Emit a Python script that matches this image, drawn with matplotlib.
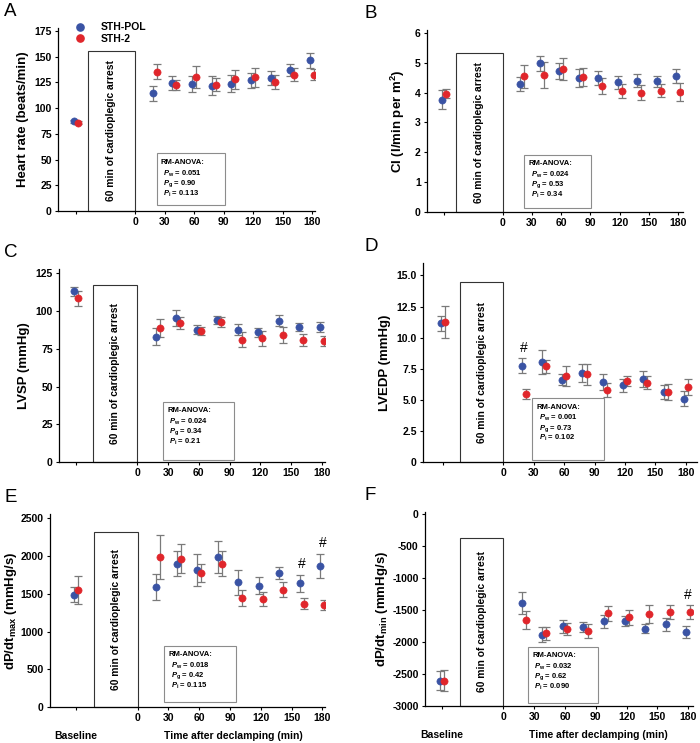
import numpy as np
import matplotlib
matplotlib.use('Agg')
import matplotlib.pyplot as plt
from matplotlib.lines import Line2D
from matplotlib.patches import Rectangle

plt.rcParams.update({
    'font.family': ['Liberation Sans', 'DejaVu Sans'],
    'font.weight': 'bold',
    'mathtext.fontset': 'custom',
    'mathtext.rm': 'Liberation Sans:bold',
    'mathtext.it': 'Liberation Sans:italic:bold',
    'mathtext.bf': 'Liberation Sans:bold',
})

BLUE = '#3a53a4'
RED = '#e0262b'
ERR = '#7a7a7a'

# baseline is drawn at x = -60, then minutes after declamping
times = [-60, 20, 40, 60, 80, 100, 120, 140, 160, 180]
groups = ['STH-POL', 'STH-2']

# ── data (mean / SEM) ────────────────────────────────────────────
hr_pol       = [87.5, 114.5, 124.5, 123.5, 122.0, 124.0, 127.0, 129.5, 137.0, 146.5]
hr_pol_se    = [1.5, 7.5, 6.5, 7.5, 9.0, 8.5, 7.5, 6.5, 6.0, 7.0]
hr_sth2      = [86.0, 135.5, 122.5, 130.5, 123.0, 128.0, 130.0, 125.5, 132.5, 132.5]
hr_sth2_se   = [1.5, 7.0, 5.0, 10.5, 6.5, 9.5, 9.0, 7.0, 6.5, 5.5]

ci_pol       = [3.77, 4.28, 4.98, 4.73, 4.50, 4.50, 4.35, 4.40, 4.38, 4.55]
ci_pol_se    = [0.33, 0.23, 0.25, 0.26, 0.30, 0.24, 0.22, 0.22, 0.18, 0.24]
ci_sth2      = [3.97, 4.55, 4.59, 4.78, 4.52, 4.22, 4.05, 4.00, 4.07, 4.02]
ci_sth2_se   = [0.15, 0.38, 0.44, 0.37, 0.30, 0.28, 0.24, 0.25, 0.22, 0.29]

lvsp_pol     = [113.0, 83.0, 95.7, 87.8, 94.2, 87.8, 86.0, 93.7, 89.3, 89.5]
lvsp_pol_se  = [3.0, 5.5, 5.3, 3.0, 2.5, 3.5, 3.0, 3.8, 2.8, 3.5]
lvsp_sth2    = [108.4, 89.0, 92.4, 86.9, 92.9, 81.1, 82.0, 84.2, 81.1, 80.2]
lvsp_sth2_se = [5.0, 6.0, 4.0, 2.8, 3.5, 4.8, 4.8, 5.2, 4.0, 3.3]

lvedp_pol     = [11.15, 7.73, 8.03, 6.63, 7.14, 6.44, 6.17, 6.70, 5.63, 5.09]
lvedp_pol_se  = [0.60, 0.60, 0.95, 0.42, 0.70, 0.65, 0.52, 0.65, 0.58, 0.60]
lvedp_sth2    = [11.28, 5.44, 7.68, 6.92, 7.06, 5.76, 6.49, 6.38, 5.60, 6.03]
lvedp_sth2_se = [1.30, 0.40, 0.52, 0.80, 0.83, 0.57, 0.40, 0.55, 0.65, 0.63]

dpmax_pol     = [1490, 1592, 1896, 1817, 1988, 1653, 1609, 1781, 1640, 1870]
dpmax_pol_se  = [100, 170, 165, 215, 210, 165, 115, 80, 110, 160]
dpmax_sth2    = [1552, 1984, 1965, 1772, 1896, 1442, 1433, 1552, 1371, 1354]
dpmax_sth2_se = [190, 290, 190, 120, 165, 105, 90, 100, 75, 70]

dpmin_pol     = [-2604, -1385, -1885, -1750, -1760, -1677, -1672, -1792, -1724, -1838]
dpmin_pol_se  = [145, 175, 120, 100, 80, 100, 80, 70, 95, 95]
dpmin_sth2    = [-2604, -1656, -1865, -1792, -1833, -1552, -1615, -1562, -1531, -1531]
dpmin_sth2_se = [160, 145, 95, 95, 110, 110, 125, 145, 110, 110]

# RM-ANOVA p values (within, group, interaction)
p_hr    = ['0.051', '0.90', '0.113']
p_ci    = ['0.024', '0.53', '0.34']
p_lvsp  = ['0.024', '0.34', '0.21']
p_lvedp = ['0.001', '0.73', '0.102']
p_dpmax = ['0.018', '0.42', '0.115']
p_dpmin = ['0.032', '0.62', '0.090']

# time points with # (STH-POL vs STH-2)
sig_lvedp = [20]
sig_dpmax = [160, 180]
sig_dpmin = [180]

W, H = 700, 743
fig = plt.figure(figsize=(W / 100, H / 100), dpi=100, facecolor='white')


def px_rect(l, r, t, b):
    return [l / W, 1 - b / H, (r - l) / W, (b - t) / H]


panels = [
    dict(letter='A', rect=(58, 315, 28, 211), xlim=(-78.3, 183), ylim=(0, 178),
         yticks=np.arange(0, 176, 25), ytl=None, ylabel='Heart rate (beats/min)',
         pol=(hr_pol, hr_pol_se), sth=(hr_sth2, hr_sth2_se), p=p_hr, sig=[],
         arrest=(-48, 156), stat=(22, 91, 5.5, 56), bottom=False, lpad=4),
    dict(letter='B', rect=(427, 683, 30, 212), xlim=(-77.3, 184.8), ylim=(0, 6.1),
         yticks=np.arange(0, 7, 1), ytl=None, ylabel='CI (l/min per m$^{2}$)',
         pol=(ci_pol, ci_pol_se), sth=(ci_sth2, ci_sth2_se), p=p_ci, sig=[],
         arrest=(-47.4, 5.34), stat=(22.5, 90.4, 0.145, 1.92), bottom=False, lpad=6),
    dict(letter='C', rect=(59, 325, 269, 462), xlim=(-76.3, 183), ylim=(0, 127.9),
         yticks=np.arange(0, 126, 25), ytl=None, ylabel='LVSP (mmHg)',
         pol=(lvsp_pol, lvsp_pol_se), sth=(lvsp_sth2, lvsp_sth2_se), p=p_lvsp, sig=[],
         arrest=(-42.9, 117.5), stat=(25.3, 94.5, 1.1, 39.9), bottom=False, lpad=4),
    dict(letter='D', rect=(423, 697, 263, 462), xlim=(-79.3, 191), ylim=(0, 16.0),
         yticks=np.arange(0, 15.1, 2.5),
         ytl=['0', '2.5', '5.0', '7.5', '10.0', '12.5', '15.0'], ylabel='LVEDP (mmHg)',
         pol=(lvedp_pol, lvedp_pol_se), sth=(lvedp_sth2, lvedp_sth2_se), p=p_lvedp,
         sig=sig_lvedp, arrest=(-42.9, 14.46), stat=(28.7, 99.7, 0.13, 5.14),
         bottom=False, lpad=4),
    dict(letter='E', rect=(50, 325, 514, 707), xlim=(-85.5, 182.6), ylim=(0, 2557),
         yticks=np.arange(0, 2501, 500), ytl=None,
         ylabel='dP/dt$_{\\rm max}$ (mmHg/s)',
         pol=(dpmax_pol, dpmax_pol_se), sth=(dpmax_sth2, dpmax_sth2_se), p=p_dpmax,
         sig=sig_dpmax, arrest=(-42.6, 2319), stat=(26, 95.5, 62, 811), bottom=True,
         lpad=1),
    dict(letter='F', rect=(425, 693, 512, 706), xlim=(-76.2, 184.6), ylim=(-3000, 36),
         yticks=np.arange(-3000, 1, 500), ytl=None,
         ylabel='dP/dt$_{\\rm min}$ (mmHg/s)',
         pol=(dpmin_pol, dpmin_pol_se), sth=(dpmin_sth2, dpmin_sth2_se), p=p_dpmin,
         sig=sig_dpmin, arrest=(-42, -365), stat=(24, 92, -2958, -2073), bottom=True,
         lpad=2),
]

x = np.array(times, dtype=float)
dodge = 2.0

for pn in panels:
    l, r, t, b = pn['rect']
    ax = fig.add_axes(px_rect(l, r, t, b))
    ax.set_xlim(*pn['xlim'])
    ax.set_ylim(*pn['ylim'])
    y0 = pn['ylim'][0]

    # series: error bars under the dots
    for (vals, se), col, dx in [(pn['pol'], BLUE, -dodge), (pn['sth'], RED, dodge)]:
        ax.errorbar(x + dx, vals, yerr=se, fmt='none', ecolor=ERR, elinewidth=0.9,
                    capsize=2.6, capthick=0.9, zorder=3)
        ax.plot(x + dx, vals, 'o', color=col, ms=5.2, mec=col, mew=0.4, zorder=4)

    # cardioplegic arrest box
    bx0, btop = pn['arrest']
    ax.add_patch(Rectangle((bx0, y0), 0 - bx0, btop - y0, facecolor='white',
                           edgecolor='#333333', lw=0.8, zorder=2, clip_on=False))
    ax.text(bx0 / 2, (y0 + btop) / 2, '60 min of cardioplegic arrest', rotation=90,
            ha='center', va='center', fontsize=7.4, fontweight='bold', zorder=5)

    # RM-ANOVA box
    sx0, sx1, sy0, sy1 = pn['stat']
    ax.add_patch(Rectangle((sx0, sy0), sx1 - sx0, sy1 - sy0, facecolor='white',
                           edgecolor='#8c8c8c', lw=0.8, zorder=2))
    lines = ['RM-ANOVA:',
             '$P_{\\rm w}$ = ' + pn['p'][0],
             '$P_{\\rm g}$ = ' + pn['p'][1],
             '$P_{\\rm i}$ = ' + pn['p'][2]]
    offs = [(3.0, -6.5), (4.5, -14.5), (4.5, -21.8), (4.5, -28.8)]
    for txt, (ox, oy) in zip(lines, offs):
        ax.annotate(txt, xy=(sx0, sy1), xytext=(ox, oy), textcoords='offset points',
                    ha='left', va='center', fontsize=5.5, fontweight='bold', zorder=5)

    # significance marks
    pol_v, pol_se = np.array(pn['pol'][0]), np.array(pn['pol'][1])
    sth_v, sth_se = np.array(pn['sth'][0]), np.array(pn['sth'][1])
    for tt in pn['sig']:
        i = times.index(tt)
        top = max(pol_v[i] + pol_se[i], sth_v[i] + sth_se[i])
        ax.annotate('#', xy=(tt, top), xytext=(0, 7.5), textcoords='offset points',
                    ha='center', va='center', fontsize=10, fontweight='normal')

    # axes styling
    for s in ['top', 'right']:
        ax.spines[s].set_visible(False)
    ax.spines['left'].set_linewidth(0.9)
    ax.spines['bottom'].set_linewidth(0.9)
    ax.set_xticks([-60, 0, 30, 60, 90, 120, 150, 180])
    ax.set_xticklabels(['', '0', '30', '60', '90', '120', '150', '180'])
    ax.set_yticks(pn['yticks'])
    if pn['ytl'] is not None:
        ax.set_yticklabels(pn['ytl'])
    else:
        ax.set_yticklabels([f'{v:g}' for v in pn['yticks']])
    ax.tick_params(direction='out', length=2.5, width=0.8, labelsize=7.5, pad=2)
    for lab in ax.get_xticklabels() + ax.get_yticklabels():
        lab.set_fontweight('bold')
    ax.set_ylabel(pn['ylabel'], fontsize=9.5, fontweight='bold', labelpad=pn['lpad'])

    if pn['bottom']:
        ax.annotate('Baseline', xy=(-60, 0), xycoords=('data', 'axes fraction'),
                    xytext=(0, -17), textcoords='offset points', ha='center', va='top',
                    fontsize=7.5, fontweight='bold')
        ax.annotate('Time after declamping (min)', xy=(93, 0),
                    xycoords=('data', 'axes fraction'), xytext=(0, -17),
                    textcoords='offset points', ha='center', va='top',
                    fontsize=7.5, fontweight='bold')

    fig.text((4 if l < 350 else 365) / W, 1 - (t - 25) / H, pn['letter'],
             fontsize=13.5, fontweight='normal', ha='left', va='top')

handles = [Line2D([], [], ls='', marker='o', color=BLUE, ms=5.2),
           Line2D([], [], ls='', marker='o', color=RED, ms=5.2)]
fig.legend(handles, groups, loc='upper left', bbox_to_anchor=(70 / W, 1 - 17 / H),
           frameon=False, handletextpad=1.4, labelspacing=0.15,
           borderpad=0, handlelength=1.0, prop={'weight': 'bold', 'size': 7.5})

fig.savefig('out.png', dpi=100, facecolor='white')
